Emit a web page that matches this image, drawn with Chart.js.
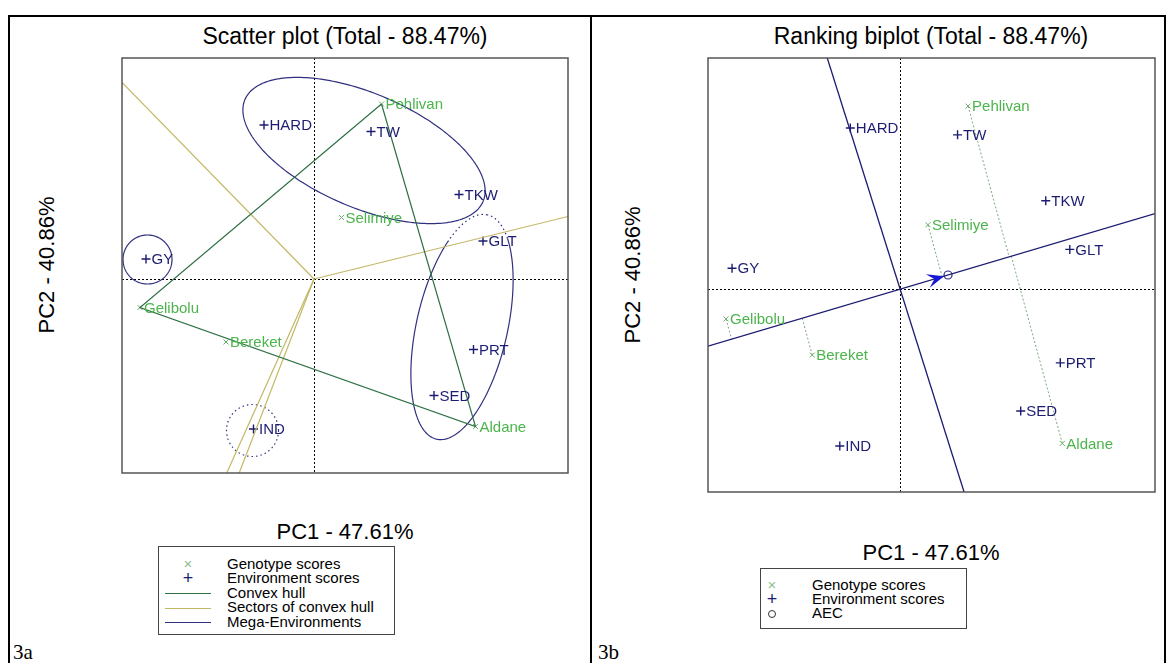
<!DOCTYPE html>
<html><head><meta charset="utf-8">
<script src="https://cdn.jsdelivr.net/npm/chart.js@4.4.0/dist/chart.umd.min.js"></script>
<style>
html,body{margin:0;padding:0;background:#fff;}
#page{position:relative;width:1168px;height:663px;overflow:hidden;font-family:"Liberation Sans",Arial,sans-serif;color:#000;}
.a{position:absolute;}
.bar{position:absolute;background:#000;}
.title{position:absolute;width:420px;text-align:center;font-size:23px;line-height:26px;white-space:nowrap;}
.xlab{position:absolute;width:300px;text-align:center;font-size:22px;line-height:26px;white-space:nowrap;}
.ylab{position:absolute;width:300px;height:26px;text-align:center;font-size:22px;line-height:26px;white-space:nowrap;transform:rotate(-90deg);}
.lg{position:absolute;border:1px solid #444;background:#fff;}
.lt{position:absolute;font-size:15px;line-height:16px;white-space:nowrap;}
.ls{position:absolute;width:20px;text-align:center;line-height:16px;}
.ll{position:absolute;height:0;border-top:1.3px solid;}
.fig{position:absolute;font-family:"Liberation Serif","Times New Roman",serif;font-size:21px;line-height:22px;}
canvas{position:absolute;}
</style></head><body>
<div id="page">
  <div class="bar" style="left:8px;top:15px;width:1158px;height:2px"></div>
  <div class="bar" style="left:8px;top:15px;width:2px;height:648px"></div>
  <div class="bar" style="left:590px;top:15px;width:2px;height:648px"></div>
  <div class="bar" style="left:1164px;top:15px;width:2px;height:648px"></div>

  <div class="title" style="left:135px;top:23px">Scatter plot (Total - 88.47%)</div>
  <div class="title" style="left:721px;top:23px">Ranking biplot (Total - 88.47%)</div>

  <div class="ylab" style="left:-103px;top:252px">PC2 - 40.86%</div>
  <div class="ylab" style="left:483px;top:262px">PC2 - 40.86%</div>

  <div class="xlab" style="left:195px;top:519px">PC1 - 47.61%</div>
  <div class="xlab" style="left:781px;top:540px">PC1 - 47.61%</div>

  <!-- legend 3a -->
  <div class="lg" style="left:158px;top:546px;width:235px;height:87px"></div>
  <div class="ls" style="left:178px;top:556px;color:#8cc08c;font-size:15px">×</div>
  <div class="ls" style="left:178px;top:570px;color:#1c1c72;font-size:18px">+</div>
  <div class="ll" style="left:165px;top:593px;width:46px;border-color:#2f7045"></div>
  <div class="ll" style="left:165px;top:608px;width:46px;border-color:#c2b865"></div>
  <div class="ll" style="left:165px;top:622px;width:46px;border-color:#303080"></div>
  <div class="lt" style="left:227px;top:556px">Genotype scores</div>
  <div class="lt" style="left:227px;top:570px">Environment scores</div>
  <div class="lt" style="left:227px;top:585px">Convex hull</div>
  <div class="lt" style="left:227px;top:599px">Sectors of convex hull</div>
  <div class="lt" style="left:227px;top:614px">Mega-Environments</div>

  <!-- legend 3b -->
  <div class="lg" style="left:760px;top:568px;width:205px;height:59px"></div>
  <div class="ls" style="left:762px;top:577px;color:#8cc08c;font-size:15px">×</div>
  <div class="ls" style="left:762px;top:591px;color:#1c1c72;font-size:18px">+</div>
  <div class="a" style="left:768px;top:610px;width:6px;height:6px;border:1px solid #333;border-radius:50%"></div>
  <div class="lt" style="left:812px;top:577px">Genotype scores</div>
  <div class="lt" style="left:812px;top:591px">Environment scores</div>
  <div class="lt" style="left:812px;top:605px">AEC</div>

  <div class="fig" style="left:13px;top:641px">3a</div>
  <div class="fig" style="left:598px;top:641px">3b</div>

  <canvas id="c1" width="490" height="450" style="left:100px;top:40px"></canvas>
  <canvas id="c2" width="478" height="470" style="left:690px;top:40px"></canvas>
</div>
<script>
// ---------------- data ----------------
const genotypes = ['Pehlivan', 'Selimiye', 'Gelibolu', 'Bereket', 'Aldane'];
const genoPC1   = [1.35, 0.55, -3.48, -1.76, 3.23];
const genoPC2   = [3.50, 1.23, -0.57, -1.26, -2.95];

const environments = ['HARD', 'TW', 'TKW', 'GLT', 'GY', 'PRT', 'SED', 'IND'];
const envPC1       = [-1.00, 1.14, 2.90, 3.38, -3.36, 3.19, 2.40, -1.21];
const envPC2       = [3.08, 2.95, 1.69, 0.76, 0.40, -1.41, -2.33, -3.00];

const hullOrder = ['Pehlivan', 'Aldane', 'Gelibolu', 'Pehlivan'];

// sector rays from the origin to the plot border
const sectorEndPC1 = [-3.84, 5.08, -1.75, -1.50];
const sectorEndPC2 = [3.93, 1.25, -3.89, -3.89];

// mega-environment ellipses (centre, semi-axes, rotation in degrees)
const megaCx    = [1.00, -3.33, 2.96, -1.23];
const megaCy    = [2.57, 0.39, -0.96, -3.03];
const megaA     = [2.59, 0.49, 2.30, 0.52];
const megaB     = [1.14, 0.49, 0.91, 0.52];
const megaAngle = [-23.2, 0, 77.25, 0];
const megaDottedAbove = [Infinity, Infinity, 0.78, -Infinity];

// ranking biplot
const aec = [0.95, 0.27];
const ordinateEndPC1 = [-1.46, 1.27];
const ordinateEndPC2 = [4.42, -3.88];
const arrowTipPC1 = 0.87;

const axisPC1 = [-3.84, 5.08];
const axisPC2 = [-3.88, 4.42];

// ---------------- colours ----------------
const navy = '#1c1c72', genoText = '#4cb44c', genoMark = '#6aae6a';
const hullColor = '#2f7045', sectorColor = '#c2b865', megaColor = '#303080';

const genoPts = genotypes.map((g, i) => ({x: genoPC1[i], y: genoPC2[i]}));
const envPts = environments.map((e, i) => ({x: envPC1[i], y: envPC2[i]}));

function lineDs(data, color, width, dash) {
  return {data, showLine: true, borderColor: color, borderWidth: width, borderDash: dash || [],
          pointRadius: 0, fill: false, tension: 0};
}
function genoDs() {
  return {data: genoPts, pointStyle: 'crossRot', pointRadius: 3.5, borderColor: genoMark, borderWidth: 1,
          pointLabels: genotypes, labelColor: genoText, labelOffset: 4};
}
function envDs() {
  return {data: envPts, pointStyle: 'cross', pointRadius: 4.5, borderColor: navy, borderWidth: 1.4,
          pointLabels: environments, labelColor: navy, labelOffset: 5.5};
}

const labelPlugin = {
  id: 'ptLabels',
  afterDatasetsDraw(chart) {
    const ctx = chart.ctx;
    chart.data.datasets.forEach((ds, i) => {
      if (!ds.pointLabels) return;
      const meta = chart.getDatasetMeta(i);
      ctx.save();
      ctx.font = '15px "Liberation Sans", Arial, sans-serif';
      ctx.fillStyle = ds.labelColor;
      ctx.textBaseline = 'middle';
      ctx.textAlign = 'left';
      meta.data.forEach((el, j) => ctx.fillText(ds.pointLabels[j], el.x + ds.labelOffset, el.y + 1));
      ctx.restore();
    });
  }
};

const framePlugin = {
  id: 'frame',
  beforeDatasetsDraw(chart) {
    const {ctx, chartArea: a, scales: {x, y}} = chart;
    ctx.save();
    ctx.strokeStyle = '#000'; ctx.lineWidth = 1; ctx.setLineDash([2, 2]);
    const x0 = Math.round(x.getPixelForValue(0)) + 0.5;
    const y0 = Math.round(y.getPixelForValue(0)) + 0.5;
    ctx.beginPath();
    ctx.moveTo(x0, a.top); ctx.lineTo(x0, a.bottom);
    ctx.moveTo(a.left, y0); ctx.lineTo(a.right, y0);
    ctx.stroke();
    ctx.restore();
  },
  afterDraw(chart) {
    const {ctx, chartArea: a} = chart;
    ctx.save();
    ctx.strokeStyle = '#555'; ctx.lineWidth = 1.5;
    ctx.strokeRect(a.left, a.top, a.right - a.left, a.bottom - a.top);
    ctx.restore();
  }
};

const ellipsePlugin = {
  id: 'megaEnv',
  beforeDatasetsDraw(chart) {
    const {ctx, chartArea: a, scales: {x, y}} = chart;
    ctx.save();
    ctx.beginPath(); ctx.rect(a.left, a.top, a.right - a.left, a.bottom - a.top); ctx.clip();
    ctx.strokeStyle = megaColor; ctx.lineWidth = 1.2;
    for (let k = 0; k < megaCx.length; k++) {
      const phi = megaAngle[k] * Math.PI / 180, N = 240, pts = [];
      for (let s = 0; s <= N; s++) {
        const t = 2 * Math.PI * s / N;
        const dx = megaA[k] * Math.cos(t), dy = megaB[k] * Math.sin(t);
        const vx = megaCx[k] + dx * Math.cos(phi) - dy * Math.sin(phi);
        const vy = megaCy[k] + dx * Math.sin(phi) + dy * Math.cos(phi);
        pts.push({px: x.getPixelForValue(vx), py: y.getPixelForValue(vy), dotted: vy > megaDottedAbove[k]});
      }
      let i = 0;
      while (i < N) {
        const dotted = pts[i].dotted;
        ctx.setLineDash(dotted ? [1.5, 3] : []);
        ctx.beginPath(); ctx.moveTo(pts[i].px, pts[i].py);
        let j = i;
        while (j < N && pts[j].dotted === dotted) { j++; ctx.lineTo(pts[j].px, pts[j].py); }
        ctx.stroke();
        i = j;
      }
    }
    ctx.restore();
  }
};

const arrowPlugin = {
  id: 'aecArrow',
  afterDatasetsDraw(chart) {
    const {ctx, scales: {x, y}} = chart;
    const slope = aec[1] / aec[0];
    const tx = x.getPixelForValue(arrowTipPC1), ty = y.getPixelForValue(arrowTipPC1 * slope);
    const ox = x.getPixelForValue(0), oy = y.getPixelForValue(0);
    let dx = tx - ox, dy = ty - oy; const len = Math.hypot(dx, dy); dx /= len; dy /= len;
    const px = -dy, py = dx, L = 17, W = 7, n = 10;
    ctx.save();
    ctx.fillStyle = '#1616d6';
    ctx.beginPath();
    ctx.moveTo(tx, ty);
    ctx.lineTo(tx - L * dx + W * px, ty - L * dy + W * py);
    ctx.lineTo(tx - n * dx, ty - n * dy);
    ctx.lineTo(tx - L * dx - W * px, ty - L * dy - W * py);
    ctx.closePath();
    ctx.fill();
    ctx.restore();
  }
};

function baseOptions(pad) {
  return {
    responsive: false, animation: false, devicePixelRatio: 1, events: [],
    layout: {padding: pad},
    plugins: {legend: {display: false}, tooltip: {enabled: false}, title: {display: false}},
    scales: {
      x: {type: 'linear', min: axisPC1[0], max: axisPC1[1], display: false},
      y: {type: 'linear', min: axisPC2[0], max: axisPC2[1], display: false}
    }
  };
}

// ---------------- 3a : scatter plot ----------------
const ds1 = [];
ds1.push(lineDs(hullOrder.map(n => genoPts[genotypes.indexOf(n)]), hullColor, 1.2));
sectorEndPC1.forEach((ex, i) => ds1.push(lineDs([{x: 0, y: 0}, {x: ex, y: sectorEndPC2[i]}], sectorColor, 1.2)));
ds1.push(genoDs());
ds1.push(envDs());

new Chart(document.getElementById('c1'), {
  type: 'scatter',
  data: {datasets: ds1},
  options: baseOptions({left: 22, top: 18, right: 22, bottom: 17}),
  plugins: [framePlugin, ellipsePlugin, labelPlugin]
});

// ---------------- 3b : ranking biplot ----------------
const slope = aec[1] / aec[0];
const ulen = Math.hypot(aec[0], aec[1]);
const ux = aec[0] / ulen, uy = aec[1] / ulen;
const ds2 = [];
ds2.push(lineDs([{x: axisPC1[0], y: axisPC1[0] * slope}, {x: axisPC1[1], y: axisPC1[1] * slope}], navy, 1.3));
ds2.push(lineDs([{x: ordinateEndPC1[0], y: ordinateEndPC2[0]}, {x: ordinateEndPC1[1], y: ordinateEndPC2[1]}], navy, 1.3));
genoPts.forEach(p => {
  const d = p.x * ux + p.y * uy;
  ds2.push(lineDs([p, {x: d * ux, y: d * uy}], '#7fa87f', 1, [2, 2]));
});
ds2.push(genoDs());
ds2.push(envDs());
ds2.push({data: [{x: aec[0], y: aec[1]}], pointStyle: 'circle', pointRadius: 4, borderColor: '#2a2a8a',
          backgroundColor: '#fff', borderWidth: 1.2});

new Chart(document.getElementById('c2'), {
  type: 'scatter',
  data: {datasets: ds2},
  options: baseOptions({left: 18, top: 18, right: 13, bottom: 18}),
  plugins: [framePlugin, arrowPlugin, labelPlugin]
});
</script>
</body></html>
